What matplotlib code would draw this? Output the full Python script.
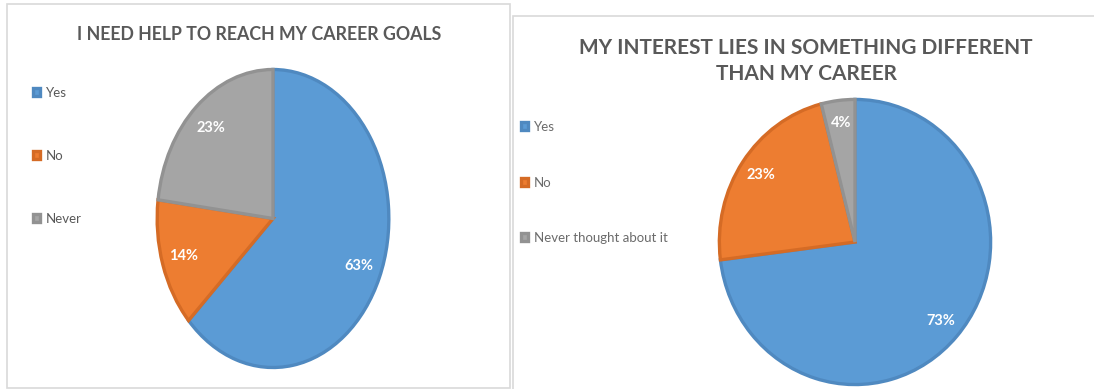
import matplotlib.pyplot as plt
from matplotlib.patches import Rectangle

# survey answers
help_labels = ["Yes", "No", "Never"]
help_share = [63, 14, 23]

interest_labels = ["Yes", "No", "Never thought about it"]
interest_share = [73, 23, 4]

fills = ["#5B9BD5", "#ED7D31", "#A5A5A5"]
edges = ["#4F89C0", "#D56B25", "#929292"]

W, H = 1094, 389
plt.rcParams["font.family"] = ["Lato", "DejaVu Sans"]

fig = plt.figure(figsize=(W / 100, H / 100), dpi=100)
fig.patch.set_facecolor("white")


def px_axes(x0, y0, x1, y1):
    # axes from pixel box (top-left origin)
    return fig.add_axes([x0 / W, 1 - y1 / H, (x1 - x0) / W, (y1 - y0) / H])


def draw_pie(ax, values, pctdist):
    wedges, _, autotexts = ax.pie(
        values, colors=fills, startangle=90, counterclock=False,
        autopct=lambda p: f"{p:.0f}%", pctdistance=pctdist,
        wedgeprops=dict(edgecolor=None, linewidth=2.4),
        textprops=dict(color="white", fontsize=10.5, fontweight="bold"))
    for w, ec in zip(wedges, edges):
        w.set_edgecolor(ec)
    ax.set_aspect("auto")
    ax.set_xlim(-1.01, 1.01)
    ax.set_ylim(-1.01, 1.01)
    return wedges, autotexts


# panel frames
fig.patches.append(Rectangle((7 / W, 1 - 388 / H), 503 / W, 384 / H,
                             transform=fig.transFigure, fill=False,
                             edgecolor="#d9d9d9", linewidth=1.2))
fig.patches.append(Rectangle((513 / W, -0.1), 0.6, 1.1 - 16 / H,
                             transform=fig.transFigure, fill=False,
                             edgecolor="#d9d9d9", linewidth=1.2))

# left chart
ax1 = px_axes(156, 68, 390, 369)
w1, t1 = draw_pie(ax1, help_share, 0.81)
fig.text(259 / W, 1 - 35 / H, "I NEED HELP TO REACH MY CAREER GOALS",
         ha="center", va="center", fontsize=12.8, fontweight="bold", color="#595959")
fig.legend(w1, help_labels, loc="upper left", bbox_to_anchor=(33 / W, 1 - 87 / H),
           frameon=False, fontsize=9.5, labelcolor="#595959",
           handlelength=0.55, handleheight=0.55, handletextpad=0.45,
           labelspacing=3.85, borderaxespad=0, borderpad=0)

# right chart
ax2 = px_axes(718, 98, 992, 386)
w2, t2 = draw_pie(ax2, interest_share, 0.84)
fig.text(806 / W, 1 - 61 / H, "MY INTEREST LIES IN SOMETHING DIFFERENT\nTHAN MY CAREER",
         ha="center", va="center", fontsize=15, fontweight="bold", color="#595959",
         linespacing=1.4)
fig.legend(w2, interest_labels, loc="upper left", bbox_to_anchor=(521 / W, 1 - 121 / H),
           frameon=False, fontsize=9.5, labelcolor="#6b6b6b",
           handlelength=0.55, handleheight=0.55, handletextpad=0.45,
           labelspacing=3.3, borderaxespad=0, borderpad=0)

fig.savefig("out.png", dpi=100, facecolor="white")
